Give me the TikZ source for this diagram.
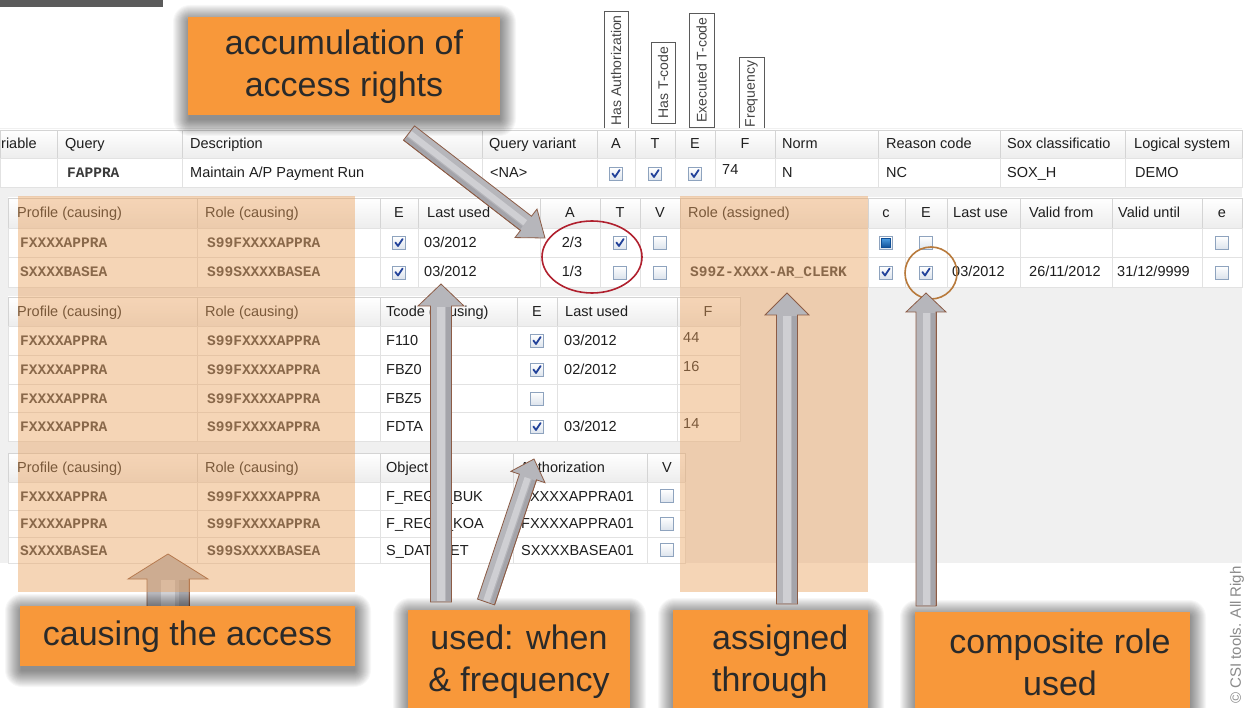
\documentclass[tikz,border=0pt]{standalone}
\usepackage{fontspec}
\setmainfont{Liberation Sans}
\newfontfamily\codefont{Liberation Mono}
\usetikzlibrary{calc}

\definecolor{panel}{HTML}{F0F0F0}
\definecolor{gridln}{HTML}{E2E2E2}
\definecolor{hdrln}{HTML}{D4D4D4}
\definecolor{hdrbot}{HTML}{EDEDED}
\definecolor{tabtext}{HTML}{1E1E1E}
\definecolor{codetext}{HTML}{3A3A3A}
\definecolor{tint}{HTML}{EBA25E}
\definecolor{callout}{HTML}{F8983A}
\definecolor{callouttext}{HTML}{2A2A2A}
\definecolor{ringred}{HTML}{B0202E}
\definecolor{ringbrown}{HTML}{B87A3C}
\definecolor{arrdark}{HTML}{A4A4AA}
\definecolor{arrmid}{HTML}{B6B6BB}
\definecolor{arrlight}{HTML}{CFCFD3}
\definecolor{arredge}{HTML}{8C5C46}
\definecolor{cbedge}{HTML}{8EA3BE}
\definecolor{cbbot}{HTML}{DCE3EC}
\definecolor{cbtick}{HTML}{22429A}
\definecolor{cbtop}{HTML}{4A9BE0}
\definecolor{cbdeep}{HTML}{0E4E96}
\definecolor{labelframe}{HTML}{5A5A5A}
\definecolor{labeltext}{HTML}{444444}
\definecolor{topbar}{HTML}{5B5B5B}
\definecolor{copyr}{HTML}{8A8A8A}

\newcommand\tabf{\fontsize{14.5}{16}\selectfont}
\newcommand\codef{\codefont\bfseries\fontsize{14.5}{16}\selectfont}
\newcommand\callf{\fontsize{34}{42}\selectfont}

\tikzset{
  hdrcell/.style={draw=hdrln, line width=0.6pt, top color=white, bottom color=hdrbot},
  datacell/.style={draw=gridln, line width=0.6pt, fill=white},
  txt/.style={anchor=base west, inner sep=0pt, font=\tabf, text=tabtext},
  ctxt/.style={anchor=base, inner sep=0pt, font=\tabf, text=tabtext},
  code/.style={anchor=base west, inner sep=0pt, font=\codef, text=codetext},
  tintbox/.style={fill=tint, fill opacity=0.45},
  callbox/.style={fill=callout, inner sep=0pt},
  calltext/.style={font=\callf, text=callouttext, align=center, inner sep=0pt},
  labelbox/.style={draw=labelframe, line width=0.8pt, fill=white},
  vlabel/.style={rotate=90, inner sep=0pt, font=\fontsize{14}{16}\selectfont, text=labeltext},
  cbframe/.style={draw=cbedge, line width=0.8pt, top color=white, bottom color=cbbot},
  cbtickline/.style={draw=cbtick, line width=1.8pt, line cap=round, line join=round},
  cbfill/.style={top color=cbtop, bottom color=cbdeep, draw=cbdeep, line width=0.4pt},
  arrbody/.style={fill=arrmid, draw=arredge, line width=0.8pt, line join=miter},
}

% check box: x, y, state (0 empty, 1 ticked, 2 filled)
\newcommand\cbox[3]{%
  \path[cbframe] ({#1-6.5},{#2-6.5}) rectangle ({#1+6.5},{#2+6.5});
  \ifcase#3\relax
  \or \draw[cbtickline] ({#1-3.6},{#2-0.5}) -- ({#1-1},{#2+3}) -- ({#1+3.6},{#2-4});
  \or \path[cbfill] ({#1-4.5},{#2-4.5}) rectangle ({#1+4.5},{#2+4.5});
  \fi
}

% soft shadow round a callout box: x1, y1, x2, y2
\newcommand\glow[4]{%
  \foreach \k in {1,...,17}{%
    \fill[black, opacity=0.032, rounded corners=\k pt]
      ({#1-\k+2},{#2-\k+5}) rectangle ({#3+\k-1},{#4+\k+4});
  }%
}

% gray block arrow: [style] tail, tip, shaft half width, head half width, head length
\newcommand\blockarrow[6][]{%
  \pgfpointdiff{\pgfpointanchor{#2}{center}}{\pgfpointanchor{#3}{center}}%
  \pgfgetlastxy{\badx}{\bady}%
  \pgfmathsetmacro\baang{atan2(\bady,\badx)}%
  \pgfmathsetmacro\balen{veclen(\badx,\bady)}%
  \pgfmathsetmacro\babase{\balen-#6}%
  \pgfmathsetmacro\badk{0.5*#4}%
  \pgfmathsetmacro\balt{0.35*#4}%
  \pgfmathsetmacro\baend{\babase-1}%
  \begin{scope}[shift={(#2)}, rotate=\baang, #1]
    \path[arrbody] (0pt,-#4pt) -- (\babase pt,-#4pt) -- (\babase pt,-#5pt) -- (\balen pt,0pt)
      -- (\babase pt,#5pt) -- (\babase pt,#4pt) -- (0pt,#4pt) -- cycle;
    \fill[arrdark] (1pt,-#4pt) ++(0pt,0.6pt) rectangle (\baend pt,-\badk pt);
    \fill[arrlight] (1pt,-\balt pt) rectangle (\baend pt,\balt pt);
    \draw[arredge, line width=0.8pt] (0pt,-#4pt) -- (\babase pt,-#4pt);
  \end{scope}
}

\begin{document}
\begin{tikzpicture}[x=1pt,y=-1pt]
\useasboundingbox (0,0) rectangle (1250,708);
\clip (0,0) rectangle (1250,708);
\fill[white] (0,0) rectangle (1250,708);
\fill[topbar] (0,0) rectangle (163,7);

% column captions standing above the grid
\draw[labelbox] (604,11) rectangle (628,130);
\node[vlabel] (labA) at (616,70.5) {Has Authorization};
\draw[labelbox] (651,42) rectangle (675,123);
\node[vlabel] (labT) at (663,82.5) {Has T-code};
\draw[labelbox] (689,13) rectangle (714,127);
\node[vlabel] (labE) at (701.5,70) {Executed T-code};
\draw[labelbox] (739,57) rectangle (764,135);
\node[vlabel] (labF) at (751.5,94) {Frequency};

% window background
\fill[panel] (0,128) rectangle (1242,563);

% ---- query grid
\foreach \a/\b in {0/57,57/182,182/482,482/597,597/635,635/675,675/715,715/775,775/878,878/1000,1000/1125,1125/1242}{
  \path[hdrcell] (\a,130) rectangle (\b,158);
  \path[datacell] (\a,158) rectangle (\b,187);
}
\node[txt] (q1) at (1,149) {riable};
\node[txt] (q2) at (65,149) {Query};
\node[txt] (q3) at (190,149) {Description};
\node[txt] (q4) at (489,149) {Query variant};
\node[ctxt] (q5) at (616,149) {A};
\node[ctxt] (q6) at (655,149) {T};
\node[ctxt] (q7) at (695,149) {E};
\node[ctxt] (q8) at (745,149) {F};
\node[txt] (q9) at (782,149) {Norm};
\node[txt] (q10) at (886,149) {Reason code};
\node[txt] (q11) at (1007,149) {Sox classificatio};
\node[txt] (q12) at (1134,149) {Logical system};
\node[code] (r1) at (67,178) {FAPPRA};
\node[txt] (r2) at (190,178) {Maintain A/P Payment Run};
\node[txt] (r3) at (490,178) {<NA>};
\cbox{616}{174}{1}\cbox{655}{174}{1}\cbox{695}{174}{1}
\node[txt] (r4) at (722,175) {74};
\node[txt] (r5) at (782,178) {N};
\node[txt] (r6) at (886,178) {NC};
\node[txt] (r7) at (1007,178) {SOX\_H};
\node[txt] (r8) at (1135,178) {DEMO};

% ---- profile / role grid
\foreach \a/\b in {8/197,197/380,380/418,418/540,540/600,600/640,640/680,680/868,868/905,905/947,947/1020,1020/1112,1112/1202,1202/1242}{
  \path[hdrcell] (\a,198) rectangle (\b,228);
  \path[datacell] (\a,228) rectangle (\b,257.5);
  \path[datacell] (\a,257.5) rectangle (\b,287);
}
\node[txt] (p1) at (17,218) {Profile (causing)};
\node[txt] (p2) at (205,218) {Role (causing)};
\node[ctxt] (p3) at (399,218) {E};
\node[txt] (p4) at (427,218) {Last used};
\node[ctxt] (p5) at (570,218) {A};
\node[ctxt] (p6) at (620,218) {T};
\node[ctxt] (p7) at (660,218) {V};
\node[txt] (p8) at (688,218) {Role (assigned)};
\node[ctxt] (p9) at (886,218) {c};
\node[ctxt] (p10) at (926,218) {E};
\node[txt] (p11) at (953,218) {Last use};
\node[txt] (p12) at (1029,218) {Valid from};
\node[txt] (p13) at (1118,218) {Valid until};
\node[ctxt] (p14) at (1222,218) {e};
% first assignment
\node[code] (pa1) at (20,247.5) {FXXXXAPPRA};
\node[code] (pa2) at (207,247.5) {S99FXXXXAPPRA};
\cbox{399}{243}{1}
\node[txt] (pa3) at (424,247.5) {03/2012};
\node[ctxt] (pa4) at (572,247.5) {2/3};
\cbox{620}{243}{1}\cbox{660}{243}{0}\cbox{886}{243}{2}\cbox{926}{243}{0}\cbox{1222}{243}{0}
% second assignment
\node[code] (pb1) at (20,277) {SXXXXBASEA};
\node[code] (pb2) at (207,277) {S99SXXXXBASEA};
\cbox{399}{272.5}{1}
\node[txt] (pb3) at (424,277) {03/2012};
\node[ctxt] (pb4) at (572,277) {1/3};
\cbox{620}{272.5}{0}\cbox{660}{272.5}{0}
\node[code] (pb5) at (690,277) {S99Z-XXXX-AR\_CLERK};
\cbox{886}{272.5}{1}\cbox{926}{272.5}{1}
\node[txt] (pb6) at (952,277) {03/2012};
\node[txt] (pb7) at (1029,277) {26/11/2012};
\node[txt] (pb8) at (1117,277) {31/12/9999};
\cbox{1222}{272.5}{0}

% ---- transaction grid
\foreach \a/\b in {8/197,197/380,380/517,517/557,557/677,677/740}{
  \path[hdrcell] (\a,297) rectangle (\b,326);
  \foreach \u/\v in {326/355,355/384,384/412.5,412.5/441}
    \path[datacell] (\a,\u) rectangle (\b,\v);
}
\node[txt] (t1) at (17,316.5) {Profile (causing)};
\node[txt] (t2) at (205,316.5) {Role (causing)};
\node[txt] (t3) at (386,316.5) {Tcode (causing)};
\node[ctxt] (t4) at (537,316.5) {E};
\node[txt] (t5) at (565,316.5) {Last used};
\node[ctxt] (t6) at (708,316.5) {F};
\foreach \y [count=\i] in {345.5,374.5,403,431.5}{
  \node[code] (tp\i) at (20,\y) {FXXXXAPPRA};
  \node[code] (tr\i) at (207,\y) {S99FXXXXAPPRA};
}
\node[txt] (tc1) at (386,345.5) {F110};
\node[txt] (tc2) at (386,374.5) {FBZ0};
\node[txt] (tc3) at (386,403) {FBZ5};
\node[txt] (tc4) at (386,431.5) {FDTA};
\cbox{537}{341}{1}\cbox{537}{370}{1}\cbox{537}{398.5}{0}\cbox{537}{427}{1}
\node[txt] (td1) at (564,345.5) {03/2012};
\node[txt] (td2) at (564,374.5) {02/2012};
\node[txt] (td4) at (564,431.5) {03/2012};
\node[txt] (tf1) at (683,342.5) {44};
\node[txt] (tf2) at (683,371.5) {16};
\node[txt] (tf4) at (683,428.5) {14};

% ---- authorization grid
\foreach \a/\b in {8/197,197/380,380/513,513/647,647/685}{
  \path[hdrcell] (\a,453) rectangle (\b,482);
  \foreach \u/\v in {482/510,510/537,537/563}
    \path[datacell] (\a,\u) rectangle (\b,\v);
}
\node[txt] (o1) at (17,472.5) {Profile (causing)};
\node[txt] (o2) at (205,472.5) {Role (causing)};
\node[txt] (o3) at (386,472.5) {Object};
\node[txt] (o4) at (520,472.5) {Authorization};
\node[ctxt] (o5) at (667,472.5) {V};
\node[code] (oa1) at (20,501) {FXXXXAPPRA};
\node[code] (oa2) at (207,501) {S99FXXXXAPPRA};
\node[txt] (oa3) at (386,501) {F\_REGU\_BUK};
\node[txt] (oa4) at (521,501) {FXXXXAPPRA01};
\node[code] (ob1) at (20,528.5) {FXXXXAPPRA};
\node[code] (ob2) at (207,528.5) {S99FXXXXAPPRA};
\node[txt] (ob3) at (386,528.5) {F\_REGU\_KOA};
\node[txt] (ob4) at (521,528.5) {FXXXXAPPRA01};
\node[code] (oc1) at (20,555) {SXXXXBASEA};
\node[code] (oc2) at (207,555) {S99SXXXXBASEA};
\node[txt] (oc3) at (386,555) {S\_DATASET};
\node[txt] (oc4) at (521,555) {SXXXXBASEA01};
\cbox{667}{496}{0}\cbox{667}{523.5}{0}\cbox{667}{550}{0}

% ---- arrow pointing at the causing columns (lies under the tint)
\coordinate (cauTail) at (168,608);
\coordinate (cauTip) at (168,554);
\blockarrow{cauTail}{cauTip}{21}{40}{25}

% tinted column bands
\fill[tintbox] (18,196) rectangle (355,592);
\fill[tintbox] (680,196) rectangle (868,592);

% rings
\draw[ringred, line width=1.6pt] (592,257) ellipse [x radius=50pt, y radius=36pt];
\draw[ringbrown, line width=1.6pt] (931,273) circle [radius=26pt];

% ---- callouts
\glow{188}{17}{500}{115}
\node[callbox, minimum width=312pt, minimum height=98pt] (accBox) at (344,66) {};
\node[calltext] (accText) at (344,67) {accumulation of\\access rights};

\glow{20}{606}{355}{666}
\node[callbox, minimum width=335pt, minimum height=60pt] (cauBox) at (187.5,636) {};
\node[calltext] (cauText) at (187.5,637) {causing the access};

\glow{408}{610}{630}{730}
\node[callbox, minimum width=222pt, minimum height=120pt] (useBox) at (519,670) {};
\node[calltext] (useText) at (519,662) {used: when\\\& frequency};

\glow{673}{610}{868}{730}
\node[callbox, minimum width=195pt, minimum height=120pt] (asgBox) at (770.5,670) {};
\node[calltext, align=left, anchor=west] (asgText) at (712,662) {assigned\\through};

\glow{915}{612}{1190}{730}
\node[callbox, minimum width=275pt, minimum height=118pt] (cmpBox) at (1052.5,671) {};
\node[calltext] (cmpText) at (1060,662) {composite role\\used};

% ---- pointers from the callouts
\coordinate (accTail) at (409,133);
\coordinate (accTip) at (545,238);
\blockarrow{accTail}{accTip}{9}{18}{24}
\coordinate (useTail) at (441,602);
\coordinate (useTip) at (441,284);
\blockarrow{useTail}{useTip}{10.5}{23}{22}
\coordinate (authTail) at (486,602);
\coordinate (authTip) at (534,459);
\blockarrow{authTail}{authTip}{9}{18}{19}
\coordinate (asgTail) at (787,604);
\coordinate (asgTip) at (787,293);
\blockarrow{asgTail}{asgTip}{10.5}{22}{22}
\coordinate (cmpTail) at (926,606);
\coordinate (cmpTip) at (926,293);
\blockarrow{cmpTail}{cmpTip}{10}{20}{19}

% copyright line
\node[rotate=90, anchor=west, inner sep=0pt, font=\fontsize{15}{17}\selectfont, text=copyr] (copy) at (1237,704) {© CSI tools. All Righ};
\end{tikzpicture}
\end{document}
